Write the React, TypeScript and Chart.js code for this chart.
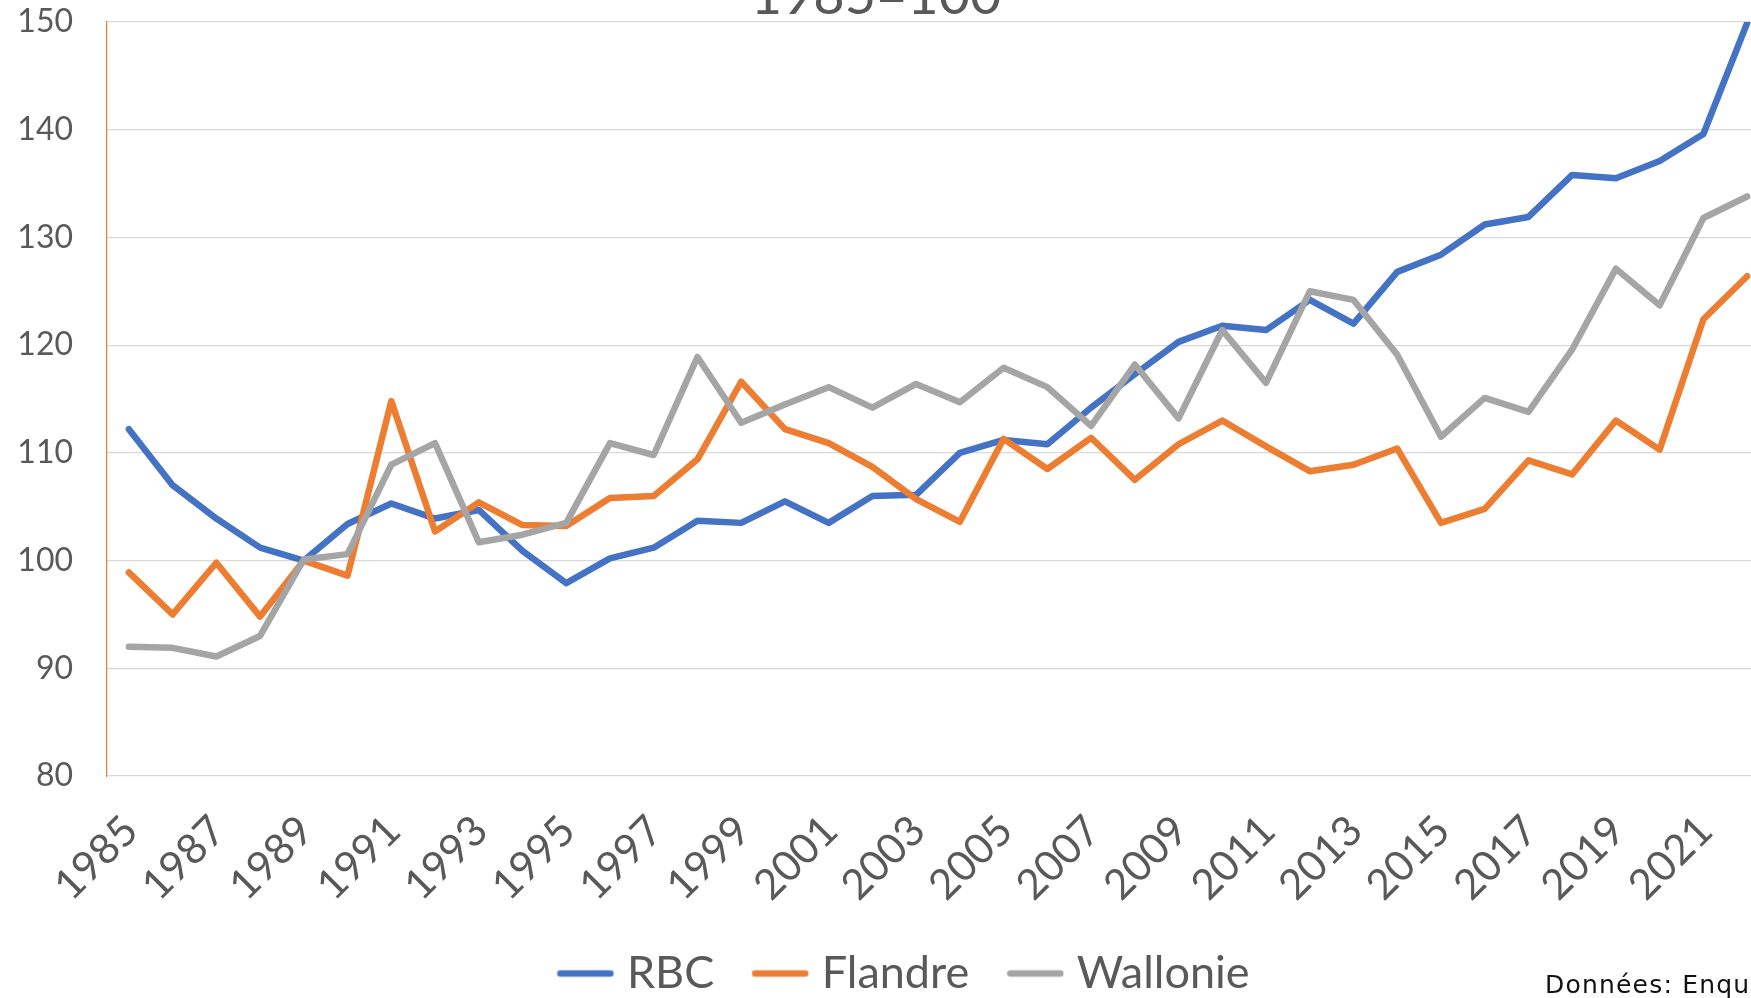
import React, { useEffect, useRef } from 'react';
import { Chart, registerables } from 'chart.js';

Chart.register(...registerables);

const years = [
  '1985', '1986', '1987', '1988', '1989', '1990', '1991', '1992', '1993', '1994',
  '1995', '1996', '1997', '1998', '1999', '2000', '2001', '2002', '2003', '2004',
  '2005', '2006', '2007', '2008', '2009', '2010', '2011', '2012', '2013', '2014',
  '2015', '2016', '2017', '2018', '2019', '2020', '2021', '2022',
];

const xTickLabels = [
  '1985', '1987', '1989', '1991', '1993', '1995', '1997', '1999', '2001', '2003',
  '2005', '2007', '2009', '2011', '2013', '2015', '2017', '2019', '2021',
];

const rbc = [
  112.2, 107.0, 103.9, 101.2, 100.0, 103.4, 105.3, 103.9, 104.7, 100.9,
  97.9, 100.2, 101.2, 103.7, 103.5, 105.5, 103.5, 106.0, 106.1, 110.0,
  111.2, 110.8, 114.2, 117.3, 120.3, 121.8, 121.4, 124.2, 122.0, 126.8,
  128.4, 131.2, 131.9, 135.8, 135.5, 137.1, 139.6, 149.9,
];

const flandre = [
  98.9, 95.0, 99.8, 94.8, 100.0, 98.6, 114.8, 102.7, 105.4, 103.3,
  103.2, 105.8, 106.0, 109.4, 116.6, 112.2, 110.9, 108.7, 105.7, 103.6,
  111.3, 108.5, 111.4, 107.5, 110.8, 113.0, 110.6, 108.3, 108.9, 110.4,
  103.5, 104.8, 109.3, 108.0, 113.0, 110.3, 122.4, 126.4,
];

const wallonie = [
  92.0, 91.9, 91.1, 93.0, 100.1, 100.6, 108.9, 110.9, 101.7, 102.4,
  103.5, 110.9, 109.8, 118.9, 112.8, 114.5, 116.1, 114.2, 116.4, 114.7,
  117.9, 116.1, 112.5, 118.2, 113.2, 121.4, 116.5, 125.0, 124.2, 119.1,
  111.5, 115.1, 113.8, 119.6, 127.1, 123.7, 131.8, 133.8,
];

const seriesNames = ['RBC', 'Flandre', 'Wallonie'];
const seriesColors = ['#4472C4', '#ED7D31', '#A5A5A5'];

const yMin = 80;
const yMax = 150;
const yStep = 10;

const TEXT = '#595959';

function legendLine(color: string): HTMLCanvasElement {
  const c = document.createElement('canvas');
  c.width = 58;
  c.height = 10;
  const g = c.getContext('2d')!;
  g.strokeStyle = color;
  g.lineWidth = 6.5;
  g.lineCap = 'round';
  g.beginPath();
  g.moveTo(4, 5);
  g.lineTo(54, 5);
  g.stroke();
  return c;
}

export default function App() {
  const ref = useRef<HTMLCanvasElement>(null);

  useEffect(() => {
    if (!ref.current) return;
    const values = [rbc, flandre, wallonie];
    const mk = (i: number) => ({
      label: seriesNames[i],
      data: values[i],
      yAxisID: 'y',
      borderColor: seriesColors[i],
      backgroundColor: seriesColors[i],
      pointBorderColor: seriesColors[i],
      pointBackgroundColor: seriesColors[i],
      pointStyle: legendLine(seriesColors[i]),
      borderWidth: 6.5,
      pointRadius: 0,
      pointHoverRadius: 0,
      tension: 0,
      borderJoinStyle: 'round' as const,
      borderCapStyle: 'round' as const,
      order: 3 - i,
    });
    const chart = new Chart(ref.current, {
      type: 'line',
      data: {
        labels: years,
        datasets: [mk(0), mk(1), mk(2)],
      },
      options: {
        responsive: false,
        animation: false,
        devicePixelRatio: 1,
        layout: { padding: { top: 22, left: 0, right: 0, bottom: 0 } },
        scales: {
          x: {
            type: 'category',
            offset: true,
            grid: { display: false, drawTicks: false },
            border: { display: false },
            ticks: {
              autoSkip: false,
              maxRotation: 45,
              minRotation: 45,
              padding: 30,
              labelOffset: 2,
              color: TEXT,
              font: { family: 'Lato', size: 42 },
              callback: (_v: any, i: number) => (xTickLabels.includes(years[i]) ? years[i] : ''),
            },
            afterFit: (s: any) => {
              s.height = 128;
            },
          },
          y: {
            position: 'left',
            weight: 2,
            min: yMin,
            max: yMax,
            ticks: {
              stepSize: yStep,
              padding: 0,
              color: TEXT,
              font: { family: 'Lato', size: 32 },
            },
            grid: { color: '#D9D9D9', lineWidth: 1.2, drawTicks: false },
            border: { display: false },
            afterFit: (s: any) => {
              s.width = 73;
            },
          },
          yPad: {
            type: 'linear',
            position: 'left',
            weight: 1,
            min: yMin,
            max: yMax,
            ticks: { display: false },
            grid: { display: false, drawTicks: false },
            border: { display: true, color: '#ED7D31', width: 1.2 },
            afterFit: (s: any) => {
              s.width = 34;
            },
          },
          yRight: {
            type: 'linear',
            position: 'right',
            min: yMin,
            max: yMax,
            ticks: { display: false },
            grid: { display: false, drawTicks: false },
            border: { display: false },
            afterFit: (s: any) => {
              s.width = 47;
            },
          },
        },
        plugins: {
          title: { display: false },
          tooltip: { enabled: false },
          legend: {
            position: 'bottom',
            labels: {
              usePointStyle: true,
              pointStyleWidth: 38,
              boxHeight: 10,
              padding: 47,
              color: TEXT,
              font: { family: 'Lato', size: 45 },
              sort: (a: any, b: any) => a.datasetIndex - b.datasetIndex,
            },
          },
        },
      },
    });
    return () => chart.destroy();
  }, []);

  return (
    <div
      style={{
        position: 'fixed',
        left: 0,
        top: 0,
        width: 1751,
        height: 998,
        overflow: 'hidden',
        background: '#fff',
      }}
    >
      <canvas
        ref={ref}
        width={1816}
        height={1006}
        style={{ position: 'absolute', left: 0, top: 0, width: 1816, height: 1006 }}
      />
      <div
        style={{
          position: 'absolute',
          left: 0,
          top: -33,
          width: 1752,
          textAlign: 'center',
          fontFamily: 'Lato',
          fontSize: 54,
          lineHeight: '54px',
          color: TEXT,
          whiteSpace: 'nowrap',
        }}
      >
        1985=100
      </div>
      <div
        style={{
          position: 'absolute',
          left: 1545,
          top: 972,
          fontFamily: '"DejaVu Sans"',
          fontSize: 25,
          lineHeight: '25px',
          letterSpacing: 1.2,
          color: '#111',
          whiteSpace: 'nowrap',
        }}
      >
        Données: Enquête sur les forces de travail
      </div>
    </div>
  );
}
